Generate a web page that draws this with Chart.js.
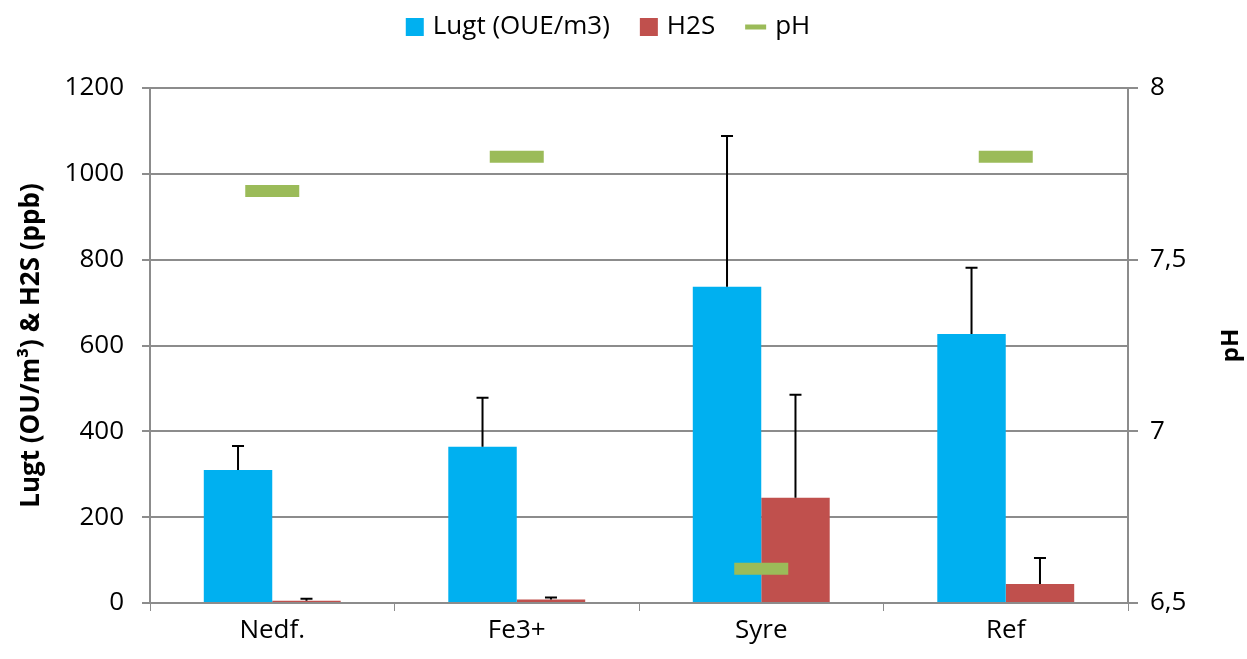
<!DOCTYPE html>
<html>
<head>
<meta charset="utf-8">
<script src="https://cdn.jsdelivr.net/npm/chart.js@4.4.0/dist/chart.umd.min.js"></script>
<style>
  html, body { margin: 0; padding: 0; background: #fff; }
  #wrap { width: 1247px; height: 659px; }
</style>
</head>
<body>
<div id="wrap"><canvas id="chart" width="1247" height="659"></canvas></div>
<script>
// data
const categories = ['Nedf.', 'Fe3+', 'Syre', 'Ref'];
const lugt = [310, 364, 737, 627];
const lugtErr = [56, 114, 351, 154];
const h2s = [5, 8, 245, 44];
const h2sErr = [5, 5, 240, 61];
const ph = [7.70, 7.80, 6.60, 7.80];

const FONT = '"Open Sans", Lato, sans-serif';
const gridGrey = '#8c8c8c';

// upper error bars with a small cap
const errorBars = {
    id: 'errorBars',
    afterDatasetsDraw(chart) {
        const ctx = chart.ctx;
        const yScale = chart.scales.y;
        chart.data.datasets.forEach((ds, di) => {
            if (!ds.errors) return;
            const meta = chart.getDatasetMeta(di);
            meta.data.forEach((bar, i) => {
                const top = yScale.getPixelForValue(ds.data[i] + ds.errors[i]);
                const base = yScale.getPixelForValue(ds.data[i]);
                ctx.save();
                ctx.strokeStyle = '#000';
                ctx.lineWidth = 2;
                ctx.beginPath();
                ctx.moveTo(bar.x, base);
                ctx.lineTo(bar.x, top);
                ctx.moveTo(bar.x - 6, top);
                ctx.lineTo(bar.x + 6, top);
                ctx.stroke();
                ctx.restore();
            });
        });
    }
};

// legend drawn by hand so the spacing matches; right title reads bottom-to-top
const legendAndTitle = {
    id: 'legendAndTitle',
    afterDraw(chart) {
        const ctx = chart.ctx;
        const area = chart.chartArea;
        ctx.save();
        ctx.font = '26px ' + FONT;
        ctx.textBaseline = 'middle';
        const items = chart.data.datasets.map(ds => ({
            text: ds.label,
            color: ds.type === 'line' ? ds.borderColor : ds.backgroundColor,
            line: ds.type === 'line',
            w: ctx.measureText(ds.label).width
        }));
        const box = 18, gapIn = 9, gapOut = 30;
        let total = 0;
        items.forEach((it, i) => {
            total += (it.line ? 21 : box) + gapIn + it.w + (i < items.length - 1 ? gapOut : 0);
        });
        let x = 608 - total / 2;
        const cy = 27;
        items.forEach(it => {
            ctx.fillStyle = it.color;
            if (it.line) {
                ctx.fillRect(x, cy - 2.5, 21, 5);
                x += 21;
            } else {
                ctx.fillRect(x, cy - box / 2, box, box);
                x += box;
            }
            x += gapIn;
            ctx.fillStyle = '#000';
            ctx.fillText(it.text, x, cy);
            x += it.w + gapOut;
        });

        ctx.translate(1231, (area.top + area.bottom) / 2);
        ctx.rotate(-Math.PI / 2);
        ctx.font = 'bold 24px ' + FONT;
        ctx.fillStyle = '#000';
        ctx.textAlign = 'center';
        ctx.fillText('pH', 0, 0);
        ctx.restore();
    }
};

new Chart(document.getElementById('chart'), {
    type: 'bar',
    data: {
        labels: categories,
        datasets: [
            {
                label: 'Lugt (OUE/m3)',
                data: lugt,
                errors: lugtErr,
                backgroundColor: '#00B0F0',
                yAxisID: 'y',
                order: 1,
                barPercentage: 1,
                categoryPercentage: 0.56
            },
            {
                label: 'H2S',
                data: h2s,
                errors: h2sErr,
                backgroundColor: '#C0504D',
                yAxisID: 'y',
                order: 1,
                barPercentage: 1,
                categoryPercentage: 0.56
            },
            {
                type: 'line',
                label: 'pH',
                data: ph,
                yAxisID: 'y2',
                showLine: false,
                pointStyle: 'line',
                pointRadius: 27,
                pointHoverRadius: 27,
                borderWidth: 12,
                borderColor: '#9BBB59',
                backgroundColor: '#9BBB59',
                order: 0
            }
        ]
    },
    options: {
        responsive: false,
        animation: false,
        layout: { padding: { left: 0, right: 0, top: 88, bottom: 0 } },
        plugins: {
            tooltip: { enabled: false },
            legend: { display: false }
        },
        scales: {
            x: {
                offset: true,
                afterFit: s => { s.height = 56; },
                grid: {
                    offset: true,
                    drawOnChartArea: false,
                    color: gridGrey,
                    tickLength: 8
                },
                border: { color: gridGrey, width: 2 },
                ticks: { color: '#000', font: { family: FONT, size: 26 }, padding: 4 }
            },
            y: {
                position: 'left',
                min: 0,
                max: 1200,
                afterFit: s => { s.width = 150; },
                ticks: {
                    stepSize: 200,
                    color: '#000',
                    font: { family: FONT, size: 26 },
                    padding: 18,
                    callback: v => String(v)
                },
                grid: { color: gridGrey, lineWidth: 2, tickLength: 8 },
                border: { color: gridGrey, width: 2 },
                title: {
                    display: true,
                    text: 'Lugt (OU/m³) & H2S (ppb)',
                    color: '#000',
                    font: { family: FONT, size: 26, weight: 'bold' },
                    padding: { top: 16, bottom: 0 }
                }
            },
            y2: {
                position: 'right',
                min: 6.5,
                max: 8,
                afterFit: s => { s.width = 119; },
                ticks: {
                    stepSize: 0.5,
                    color: '#000',
                    font: { family: FONT, size: 26 },
                    padding: 12,
                    callback: v => String(v).replace('.', ',')
                },
                grid: { drawOnChartArea: false, color: gridGrey, lineWidth: 2, tickLength: 10 },
                border: { color: gridGrey, width: 2 }
            }
        }
    },
    plugins: [errorBars, legendAndTitle]
});
</script>
</body>
</html>
